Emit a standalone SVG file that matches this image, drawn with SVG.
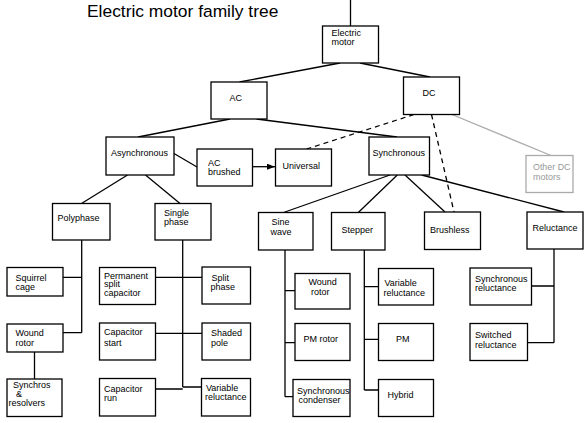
<svg xmlns="http://www.w3.org/2000/svg" width="588" height="423" viewBox="0 0 588 423">
<defs>
<style>
.b{fill:#fff;stroke:#000;stroke-width:1.3}
.g{fill:#fff;stroke:#aaa;stroke-width:1.3}
.t{font-family:"Liberation Sans",Arial,sans-serif;font-size:9px;fill:#000}
.tg{font-family:"Liberation Sans",Arial,sans-serif;font-size:9px;fill:#999}
.l{fill:none;stroke:#000;stroke-width:1.3}
.d{fill:none;stroke:#000;stroke-width:1.3;stroke-dasharray:5,4}
.lg{fill:none;stroke:#aaa;stroke-width:1.3}
</style>
<marker id="arr" viewBox="0 0 8 6" refX="8" refY="3" markerWidth="8" markerHeight="6" markerUnits="userSpaceOnUse" orient="auto">
<path d="M0,0 L8,3 L0,6 Z" fill="#000"/>
</marker>
</defs>
<rect width="588" height="423" fill="#fff"/>
<text x="87" y="17" font-family="'Liberation Sans',Arial,sans-serif" font-size="17.4" fill="#000">Electric motor family tree</text>
<g id="connectors">
<path class="l" d="M350.5,0 V26"/>
<path class="l" d="M340,63 L239.5,82"/>
<path class="l" d="M360,63 L430,77"/>
<path class="l" d="M230,119 L138,137"/>
<path class="l" d="M256.5,119 L397,137"/>
<path class="d" d="M414,114.5 L306.5,149"/>
<path class="d" d="M431.5,114.5 L454,212"/>
<path class="lg" d="M452,114.5 L551,155.5"/>
<path class="l" d="M174,153.5 L197,167"/>
<path class="l" d="M252.5,166.7 H275" marker-end="url(#arr)"/>
<path class="l" d="M127.5,175 L81.5,203.5"/>
<path class="l" d="M145.5,175 L180,203.5"/>
<path class="l" d="M81.7,240 V332.7 M63,277.3 H81.7 M63,332.7 H81.7"/>
<path class="l" d="M34.5,352 V379"/>
<path class="l" d="M182.7,240 V387 M155.5,277.3 H202 M155.5,333.3 H202 M155.5,389 H182.7 M182.7,387 H201.5"/>
<path class="l" d="M390,175 L283.5,212.5"/>
<path class="l" d="M397.3,175 L358.3,212.5"/>
<path class="l" d="M405,175 L445,212"/>
<path class="l" d="M421.7,175 L564,212"/>
<path class="l" d="M285,250 V396.7 M285,290.7 H295 M285,342.7 H295 M285,396.7 H293"/>
<path class="l" d="M364.3,250 V390 M364.3,286.7 H378.5 M364.3,339.3 H378.5 M364.3,390 H378.5"/>
<path class="l" d="M554,249 V342.7 M531.5,286 H554 M527.5,342.7 H554"/>
</g>
<g id="electric-motor"><rect class="b" x="322.5" y="26" width="56" height="37"/><text class="t" x="331.5" y="36">Electric</text><text class="t" x="331.5" y="44.5">motor</text></g>
<g id="ac"><rect class="b" x="211" y="82" width="56" height="37"/><text class="t" x="229.5" y="100.5">AC</text></g>
<g id="dc"><rect class="b" x="403.5" y="77" width="56" height="37.5"/><text class="t" x="422.5" y="96">DC</text></g>
<g id="asynchronous"><rect class="b" x="106" y="137" width="68" height="38"/><text class="t" x="111" y="156">Asynchronous</text></g>
<g id="ac-brushed"><rect class="b" x="197" y="149" width="55.5" height="37"/><text class="t" x="208" y="165.5">AC</text><text class="t" x="208" y="175">brushed</text></g>
<g id="universal"><rect class="b" x="275.5" y="149" width="56" height="37"/><text class="t" x="282.5" y="169">Universal</text></g>
<g id="synchronous"><rect class="b" x="369" y="137" width="60.5" height="38"/><text class="t" x="372.5" y="155.5">Synchronous</text></g>
<g id="other-dc"><rect class="g" x="526" y="155.5" width="47" height="37"/><text class="tg" x="533" y="170" textLength="37.5" lengthAdjust="spacingAndGlyphs">Other DC</text><text class="tg" x="533" y="180">motors</text></g>
<g id="polyphase"><rect class="b" x="52.5" y="203.5" width="57.5" height="36.5"/><text class="t" x="57.5" y="221">Polyphase</text></g>
<g id="single-phase"><rect class="b" x="155" y="203.5" width="56" height="36.5"/><text class="t" x="164" y="216">Single</text><text class="t" x="164" y="225">phase</text></g>
<g id="sine-wave"><rect class="b" x="258.5" y="212.5" width="54.5" height="37.5"/><text class="t" x="271.5" y="225">Sine</text><text class="t" x="270.5" y="234.5">wave</text></g>
<g id="stepper"><rect class="b" x="331.5" y="212.5" width="53.5" height="37.5"/><text class="t" x="341.5" y="232.5">Stepper</text></g>
<g id="brushless"><rect class="b" x="424.5" y="212" width="56" height="37.5"/><text class="t" x="430" y="232.5">Brushless</text></g>
<g id="reluctance"><rect class="b" x="527" y="212" width="56" height="37"/><text class="t" x="532.5" y="230.5">Reluctance</text></g>
<g id="squirrel-cage"><rect class="b" x="7" y="267.5" width="56" height="28.5"/><text class="t" x="15.5" y="280.5">Squirrel</text><text class="t" x="15.5" y="289.5">cage</text></g>
<g id="wound-rotor-1"><rect class="b" x="7" y="324" width="56" height="28"/><text class="t" x="15.5" y="336">Wound</text><text class="t" x="15.5" y="345.5">rotor</text></g>
<g id="synchros"><rect class="b" x="7" y="379" width="55" height="37.5"/><text class="t" x="13" y="388">Synchros</text><text class="t" x="16" y="397">&amp;</text><text class="t" x="8.5" y="406">resolvers</text></g>
<g id="permanent-split"><rect class="b" x="99.5" y="267.5" width="56" height="37"/><text class="t" x="104" y="278.5">Permanent</text><text class="t" x="104" y="287">split</text><text class="t" x="104" y="295.5">capacitor</text></g>
<g id="split-phase"><rect class="b" x="202" y="267" width="48.5" height="37"/><text class="t" x="211.5" y="280.5">Split</text><text class="t" x="210.5" y="290">phase</text></g>
<g id="capacitor-start"><rect class="b" x="99.5" y="323" width="56" height="37"/><text class="t" x="104" y="335">Capacitor</text><text class="t" x="104" y="345.5">start</text></g>
<g id="shaded-pole"><rect class="b" x="202" y="323" width="48.5" height="37"/><text class="t" x="211" y="335.5">Shaded</text><text class="t" x="211" y="345.5">pole</text></g>
<g id="capacitor-run"><rect class="b" x="99.5" y="378.5" width="56" height="37.5"/><text class="t" x="104" y="391.5">Capacitor</text><text class="t" x="104" y="400.5">run</text></g>
<g id="variable-reluctance-1"><rect class="b" x="201.5" y="378.5" width="49" height="37.5"/><text class="t" x="206" y="391">Variable</text><text class="t" x="205" y="400">reluctance</text></g>
<g id="wound-rotor-2"><rect class="b" x="295" y="273.5" width="55" height="35.5"/><text class="t" x="308.5" y="285">Wound</text><text class="t" x="311" y="295">rotor</text></g>
<g id="pm-rotor"><rect class="b" x="295" y="323.5" width="55" height="37"/><text class="t" x="303.5" y="341.5">PM rotor</text></g>
<g id="synchronous-condenser"><rect class="b" x="293" y="379.5" width="57" height="37"/><text class="t" x="297" y="394">Synchronous</text><text class="t" x="298.5" y="403">condenser</text></g>
<g id="variable-reluctance-2"><rect class="b" x="378.5" y="268.5" width="55" height="36.5"/><text class="t" x="384.5" y="286">Variable</text><text class="t" x="383.5" y="295.5">reluctance</text></g>
<g id="pm"><rect class="b" x="378.5" y="323.5" width="55" height="37"/><text class="t" x="396" y="341.5">PM</text></g>
<g id="hybrid"><rect class="b" x="378.5" y="379.5" width="55" height="37"/><text class="t" x="387.5" y="397.5">Hybrid</text></g>
<g id="synchronous-reluctance"><rect class="b" x="470" y="268" width="61.5" height="37"/><text class="t" x="475" y="282">Synchronous</text><text class="t" x="475" y="291">reluctance</text></g>
<g id="switched-reluctance"><rect class="b" x="470" y="323.5" width="57.5" height="37"/><text class="t" x="475" y="338">Switched</text><text class="t" x="475" y="347.5">reluctance</text></g>
</svg>
